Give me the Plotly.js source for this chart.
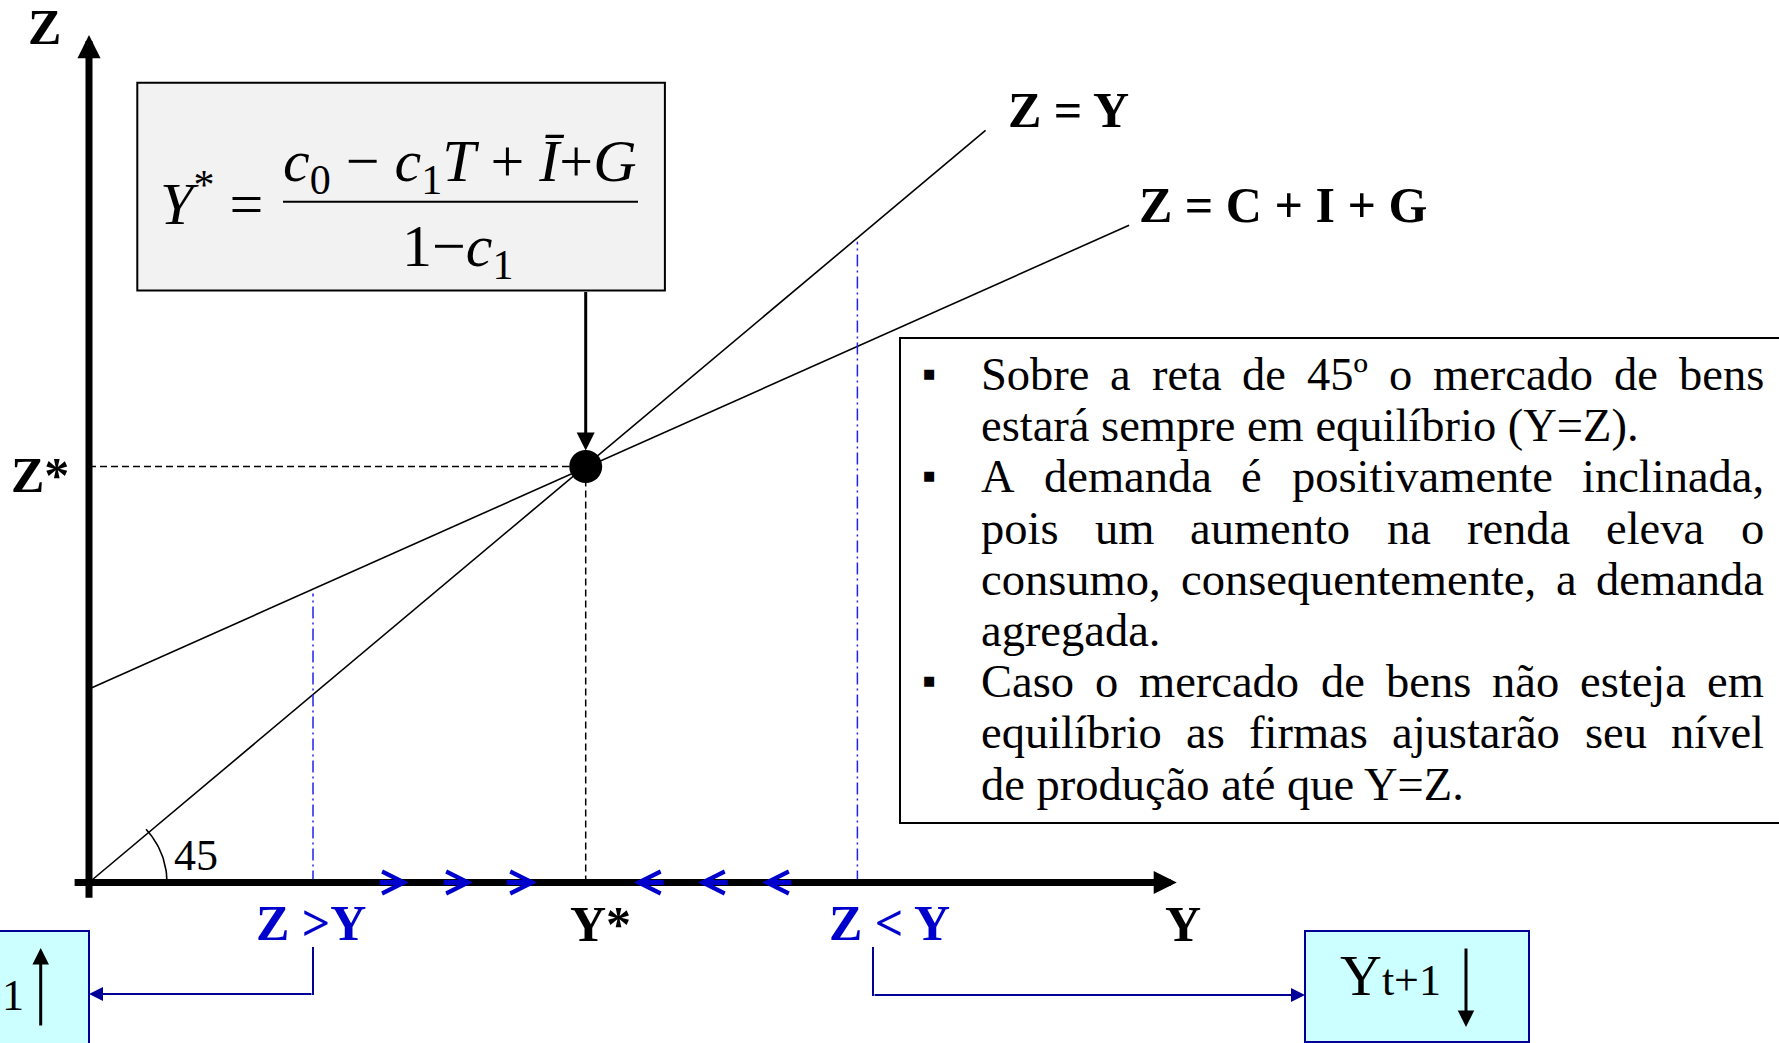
<!DOCTYPE html>
<html><head><meta charset="utf-8">
<script src="https://cdn.plot.ly/plotly-3.0.1.min.js"></script>
<style>html,body{margin:0;padding:0;background:#fff;overflow:hidden}</style>
</head><body><div id="chart" style="width:1779px;height:1043px"></div>
<script>
// ---------- data (model units: Y on x axis, Z on y axis) ----------
const yStar = [10];
const zStar = [10];
const lineZY_Y = [0, 18.05];
const lineZY_Z = [0, 18.08];
const demandY = [0, 20.94];
const demandZ = [4.65, 15.8];
const gapY = [4.51, 15.47];          // Z>Y and Z<Y positions
const gapZtop = [6.95, 15.4];
const rightChevTail = [5.82, 7.11, 8.38];
const rightChevTip = [6.44, 7.73, 9.02];
const leftChevTail = [11.60, 12.89, 14.17];
const leftChevTip = [10.97, 12.26, 13.55];
const axisYTop = [20.37];
const axisXEnd = [21.9];
const formulaBoxBottomZ = [14.23];

const bulletLines = [
  ["Sobre a reta de 45º o mercado de bens", true, true],
  ["estará sempre em equilíbrio (Y=Z).", false, false],
  ["A demanda é positivamente inclinada,", true, true],
  ["pois um aumento na renda eleva o", false, true],
  ["consumo, consequentemente, a demanda", false, true],
  ["agregada.", false, false],
  ["Caso o mercado de bens não esteja em", true, true],
  ["equilíbrio as firmas ajustarão seu nível", false, true],
  ["de produção até que Y=Z.", false, false]
];

// ---------- layout geometry ----------
const W = 1779, H = 1043;
const ox = 89, oy = 882.5, sx = 49.67, sy = 41.6;
const px = v => v / W;
const py = v => 1 - v / H;
const xRange = [-ox / sx, (W - ox) / sx];
const yRange = [-(H - oy) / sy, oy / sy];

const SERIF = '"Liberation Serif", "Times New Roman", serif';
const BLUE = '#0000cc';
const NAVY = '#000099';

// arc for 45 degree mark
const arcX = [], arcY = [];
for (let i = 0; i <= 24; i++) {
  const t = (43 * i / 24) * Math.PI / 180;
  arcX.push(78 * Math.cos(t) / sx);
  arcY.push(78 * Math.sin(t) / sy);
}

const traces = [
  {x: lineZY_Y, y: lineZY_Z, mode: 'lines', line: {color: '#000', width: 1.6}},
  {x: demandY, y: demandZ, mode: 'lines', line: {color: '#000', width: 1.6}},
  {x: [0, yStar[0]], y: [zStar[0], zStar[0]], mode: 'lines', line: {color: '#000', width: 1.5, dash: '7px,4px'}},
  {x: [yStar[0], yStar[0]], y: [0, zStar[0]], mode: 'lines', line: {color: '#000', width: 1.5, dash: '7px,4px'}},
  {x: [gapY[0], gapY[0]], y: [0, gapZtop[0]], mode: 'lines', line: {color: '#2222ee', width: 1.5, dash: '12px,4px,2px,4px'}},
  {x: [gapY[1], gapY[1]], y: [0, gapZtop[1]], mode: 'lines', line: {color: '#2222ee', width: 1.5, dash: '12px,4px,2px,4px'}},
  {x: arcX, y: arcY, mode: 'lines', line: {color: '#000', width: 1.6}},
  {x: yStar, y: zStar, mode: 'markers', marker: {color: '#000', size: 33}}
];

const ann = [];
function arrowData(tipX, tipY, tailX, tailY, opts) {
  ann.push(Object.assign({x: tipX, y: tipY, ax: tailX, ay: tailY, xref: 'x', yref: 'y', axref: 'x', ayref: 'y',
    text: '', showarrow: true, arrowcolor: '#000'}, opts));
}
// axes
arrowData(0, axisYTop[0], 0, -0.4, {arrowhead: 2, arrowwidth: 7, arrowsize: 0.66});
arrowData(axisXEnd[0], 0, -0.32, 0, {arrowhead: 2, arrowwidth: 7, arrowsize: 0.66});
// chevrons
rightChevTip.forEach((t, i) => arrowData(t, 0, rightChevTail[i], 0, {arrowhead: 5, arrowwidth: 4.8, arrowsize: 0.9, arrowcolor: BLUE}));
leftChevTip.forEach((t, i) => arrowData(t, 0, leftChevTail[i], 0, {arrowhead: 5, arrowwidth: 4.8, arrowsize: 0.9, arrowcolor: BLUE}));
// formula arrow to equilibrium
arrowData(yStar[0], zStar[0], yStar[0], formulaBoxBottomZ[0], {arrowhead: 2, arrowwidth: 3, arrowsize: 1.2, standoff: 16});

function label(text, cx, cy, size, opts) {
  ann.push(Object.assign({text: text, x: px(cx), y: py(cy), xref: 'paper', yref: 'paper', showarrow: false,
    xanchor: 'center', yanchor: 'middle', font: {family: SERIF, size: size, color: '#000'}}, opts || {}));
}
label('<b>Z</b>', 44.5, 27, 50);
label('<b>Z*</b>', 40, 474.5, 50);
label('<b>Y*</b>', 600, 924, 50);
label('<b>Y</b>', 1183, 923.5, 50);
label('<b>Z = Y</b>', 1068, 109.5, 50);
label('<b>Z = C + I + G</b>', 1283, 205.5, 50);
label('<b>Z &gt;Y</b>', 311, 922.5, 50, {font: {family: SERIF, size: 50, color: BLUE}});
label('<b>Z &lt; Y</b>', 889, 922.5, 50, {font: {family: SERIF, size: 50, color: BLUE}});
label('45', 196, 855, 44);

// formula
label('<i>Y</i><sup>*</sup> =', 158, 199, 60, {xanchor: 'left'});
label('<i>c</i><sub>0</sub> − <i>c</i><sub>1</sub><i>T</i> + <i>Ī</i>+<i>G</i>', 460, 166, 60);
label('1−<i>c</i><sub>1</sub>', 458, 250, 60);

// bottom boxes
label('Y<span style="font-size:44px">t+1</span>', 1338, 975, 58, {xanchor: 'left'});
label('Y<span style="font-size:44px">t+1</span>', 26, 990, 58, {xanchor: 'right'});
ann.push({x: px(1466), y: py(1027), xref: 'paper', yref: 'paper', ax: 0, ay: -80, text: '', showarrow: true,
  arrowhead: 2, arrowwidth: 3, arrowsize: 1.1, arrowcolor: '#000'});
ann.push({x: px(40.7), y: py(948), xref: 'paper', yref: 'paper', ax: 0, ay: 79, text: '', showarrow: true,
  arrowhead: 2, arrowwidth: 3, arrowsize: 1.1, arrowcolor: '#000'});
ann.push({x: px(89), y: py(994), xref: 'paper', yref: 'paper', ax: 224, ay: 0, text: '', showarrow: true,
  arrowhead: 2, arrowwidth: 2, arrowsize: 1.4, arrowcolor: NAVY});
ann.push({x: px(1305), y: py(995), xref: 'paper', yref: 'paper', ax: -432, ay: 0, text: '', showarrow: true,
  arrowhead: 2, arrowwidth: 2, arrowsize: 1.4, arrowcolor: NAVY});

// bullet text (justified)
const FS = 46.5;
const ctx = document.createElement('canvas').getContext('2d');
ctx.font = FS + 'px "Liberation Serif"';
const L = 979, R = 1762;
bulletLines.forEach((ln, i) => {
  const [txt, bullet, justify] = ln;
  const yc = 374.5 + 51.2 * i;
  if (bullet) {
    ann.push({text: '■', x: px(929), y: py(yc - 1), xref: 'paper', yref: 'paper', showarrow: false,
      xanchor: 'center', yanchor: 'middle', font: {family: '"DejaVu Sans"', size: 13, color: '#000'}});
  }
  if (!justify) {
    ann.push({text: txt, x: px(L), y: py(yc), xref: 'paper', yref: 'paper', showarrow: false,
      xanchor: 'left', yanchor: 'middle', font: {family: SERIF, size: FS, color: '#000'}});
    return;
  }
  const words = txt.split(' ');
  const widths = words.map(w => ctx.measureText(w).width);
  const total = widths.reduce((a, b) => a + b, 0);
  const gap = (R - L - total) / (words.length - 1);
  let x = L;
  words.forEach((w, k) => {
    ann.push({text: w, x: px(x), y: py(yc), xref: 'paper', yref: 'paper', showarrow: false,
      xanchor: 'left', yanchor: 'middle', font: {family: SERIF, size: FS, color: '#000'}});
    x += widths[k] + gap;
  });
});

const shapes = [
  {type: 'rect', xref: 'paper', yref: 'paper', x0: px(137.3), x1: px(664.9), y0: py(82.8), y1: py(290.5),
    fillcolor: '#f2f2f2', line: {color: '#000', width: 2}, layer: 'below'},
  {type: 'line', xref: 'paper', yref: 'paper', x0: px(283), x1: px(638), y0: py(201.7), y1: py(201.7),
    line: {color: '#000', width: 2}},
  {type: 'rect', xref: 'paper', yref: 'paper', x0: px(900), x1: px(1800), y0: py(338), y1: py(823),
    fillcolor: 'rgba(0,0,0,0)', line: {color: '#000', width: 2}},
  {type: 'rect', xref: 'paper', yref: 'paper', x0: px(-20), x1: px(89), y0: py(931), y1: py(1060),
    fillcolor: '#ccffff', line: {color: NAVY, width: 2}, layer: 'below'},
  {type: 'rect', xref: 'paper', yref: 'paper', x0: px(1305), x1: px(1529), y0: py(931), y1: py(1042),
    fillcolor: '#ccffff', line: {color: NAVY, width: 2}, layer: 'below'},
  {type: 'line', xref: 'paper', yref: 'paper', x0: px(313), x1: px(313), y0: py(947), y1: py(995),
    line: {color: NAVY, width: 2}},
  {type: 'line', xref: 'paper', yref: 'paper', x0: px(873), x1: px(873), y0: py(947), y1: py(996),
    line: {color: NAVY, width: 2}}
];

const layout = {
  width: W, height: H,
  margin: {l: 0, r: 0, t: 0, b: 0, pad: 0},
  paper_bgcolor: '#fff', plot_bgcolor: '#fff',
  showlegend: false,
  xaxis: {range: xRange, visible: false, fixedrange: true},
  yaxis: {range: yRange, visible: false, fixedrange: true},
  shapes: shapes,
  annotations: ann
};
Plotly.newPlot('chart', traces, layout, {displayModeBar: false, staticPlot: true});
</script></body></html>
